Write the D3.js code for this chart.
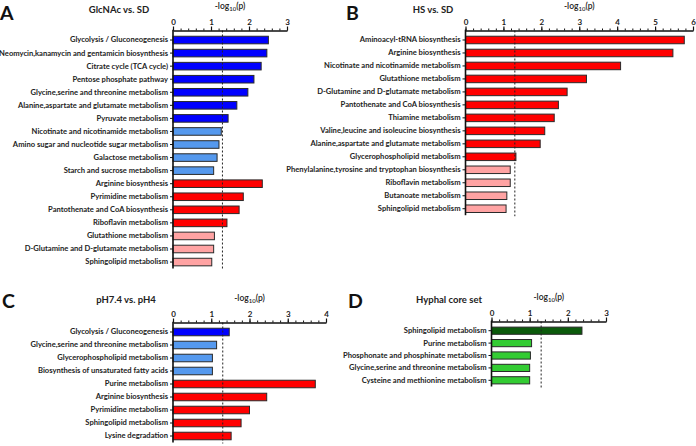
<!DOCTYPE html>
<html><head><meta charset="utf-8">
<script src="https://cdn.jsdelivr.net/npm/d3@7"></script>
<style>
html,body{margin:0;padding:0;background:#fff;}
text{font-family:Lato,"Open Sans",sans-serif;}
</style></head>
<body><svg id="chart" width="696" height="446"></svg>
<script>
// ---------- DATA ----------
const sigLine = 1.301; // -log10(0.05)

const aTitle = "GlcNAc vs. SD";
const aCategories = ["Glycolysis / Gluconeogenesis","Neomycin,kanamycin and gentamicin biosynthesis","Citrate cycle (TCA cycle)","Pentose phosphate pathway","Glycine,serine and threonine metabolism","Alanine,aspartate and glutamate metabolism","Pyruvate metabolism","Nicotinate and nicotinamide metabolism","Amino sugar and nucleotide sugar metabolism","Galactose metabolism","Starch and sucrose metabolism","Arginine biosynthesis","Pyrimidine metabolism","Pantothenate and CoA biosynthesis","Riboflavin metabolism","Glutathione metabolism","D-Glutamine and D-glutamate metabolism","Sphingolipid metabolism"];
const aValues = [2.51,2.47,2.32,2.13,1.97,1.68,1.45,1.27,1.21,1.16,1.07,2.35,1.85,1.74,1.42,1.09,1.07,1.02];
const aDirection = ["down","down","down","down","down","down","down","down","down","down","down","up","up","up","up","up","up","up"];
const aTicks = [0,1,2,3];

const bTitle = "HS vs. SD";
const bCategories = ["Aminoacyl-tRNA biosynthesis","Arginine biosynthesis","Nicotinate and nicotinamide metabolism","Glutathione metabolism","D-Glutamine and D-glutamate metabolism","Pantothenate and CoA biosynthesis","Thiamine metabolism","Valine,leucine and isoleucine biosynthesis","Alanine,aspartate and glutamate metabolism","Glycerophospholipid metabolism","Phenylalanine,tyrosine and tryptophan biosynthesis","Riboflavin metabolism","Butanoate metabolism","Sphingolipid metabolism"];
const bValues = [5.77,5.47,4.09,3.19,2.68,2.45,2.34,2.09,1.97,1.33,1.18,1.18,1.09,1.07];
const bDirection = ["up","up","up","up","up","up","up","up","up","up","up","up","up","up"];
const bTicks = [0,1,2,3,4,5,6];

const cTitle = "pH7.4 vs. pH4";
const cCategories = ["Glycolysis / Gluconeogenesis","Glycine,serine and threonine metabolism","Glycerophospholipid metabolism","Biosynthesis of unsaturated fatty acids","Purine metabolism","Arginine biosynthesis","Pyrimidine metabolism","Sphingolipid metabolism","Lysine degradation"];
const cValues = [1.47,1.14,1.03,1.03,3.72,2.45,2.00,1.78,1.52];
const cDirection = ["down","down","down","down","up","up","up","up","up"];
const cTicks = [0,1,2,3,4];

const dTitle = "Hyphal core set";
const dCategories = ["Sphingolipid metabolism","Purine metabolism","Phosphonate and phosphinate metabolism","Glycine,serine and threonine metabolism","Cysteine and methionine metabolism"];
const dValues = [2.37,1.05,1.02,1.00,1.00];
const dDirection = ["core","core","core","core","core"];
const dTicks = [0,1,2,3];

// ---------- STYLE / LAYOUT ----------
const palette = {
  down:{sig:"#0000FF", ns:"#5599EE"},
  up:{sig:"#FF0000", ns:"#FFA3A3"},
  core:{sig:"#0B5A0B", ns:"#33CC33"}
};

const panels = [
  {letter:"A", title:aTitle, cats:aCategories, vals:aValues, dir:aDirection, ticks:aTicks,
   x0:173, x1:287, axisY:30.5, step:13.06, letterX:0, letterY:20, titleX:119, titleY:13, logY:9},
  {letter:"B", title:bTitle, cats:bCategories, vals:bValues, dir:bDirection, ticks:bTicks,
   x0:465.5, x1:693, axisY:30.5, step:12.98, letterX:346, letterY:20, titleX:433, titleY:13, logY:9},
  {letter:"C", title:cTitle, cats:cCategories, vals:cValues, dir:cDirection, ticks:cTicks,
   x0:173, x1:326, axisY:322.5, step:13.0, letterX:2, letterY:308, titleX:126, titleY:303, logY:301},
  {letter:"D", title:dTitle, cats:dCategories, vals:dValues, dir:dDirection, ticks:dTicks,
   x0:491.5, x1:606, axisY:321.5, step:12.4, letterX:348, letterY:308, titleX:449, titleY:303, logY:300}
];

const svg = d3.select("#chart");

panels.forEach(p => {
  const g = svg.append("g");
  const maxV = p.ticks[p.ticks.length-1];
  const x = d3.scaleLinear().domain([0, maxV]).range([p.x0, p.x1]);
  const n = p.cats.length;
  const yTop = p.axisY + 3;
  const y = d3.scaleBand().domain(p.cats).range([yTop, yTop + n*p.step]).paddingInner(0.42).paddingOuter(0.21);
  const yBottom = yTop + n*p.step;

  // panel letter
  g.append("text").attr("x", p.letterX).attr("y", p.letterY)
    .attr("font-size", 19.5).attr("font-weight", 700).attr("fill", "#111").text(p.letter);
  // title
  g.append("text").attr("x", p.titleX).attr("y", p.titleY).attr("text-anchor","middle")
    .attr("font-size", 9.5).attr("font-weight", 700).attr("fill", "#222").text(p.title);
  // axis title -log10(p)
  const lt = g.append("text").attr("x", (p.x0+p.x1)/2).attr("y", p.logY).attr("text-anchor","middle")
    .attr("font-size", 8.5).attr("font-weight", 600).attr("fill", "#222");
  lt.append("tspan").text("-log");
  lt.append("tspan").attr("font-size", 6).attr("dy", 2).text("10");
  lt.append("tspan").attr("dy", -2).text("(p)");

  // bars
  g.selectAll("rect.bar").data(p.cats).enter().append("rect")
    .attr("class","bar")
    .attr("x", x(0))
    .attr("y", d => y(d))
    .attr("width", (d,i) => x(p.vals[i]) - x(0))
    .attr("height", y.bandwidth())
    .attr("fill", (d,i) => palette[p.dir[i]][p.vals[i] > sigLine ? "sig" : "ns"])
    .attr("stroke", "#2a2a2a").attr("stroke-width", 1);

  // significance line
  g.append("line").attr("x1", x(sigLine)).attr("x2", x(sigLine))
    .attr("y1", p.axisY).attr("y2", yBottom + 1)
    .attr("stroke", "#222").attr("stroke-width", 1).attr("stroke-dasharray", "2,2");

  // minor ticks
  const minor = g.append("g").attr("transform", `translate(0,${p.axisY})`)
    .call(d3.axisTop(x).tickValues(d3.range(0, maxV + 0.001, 0.2)).tickSize(2).tickFormat(""));
  minor.select(".domain").remove();
  minor.selectAll("line").attr("stroke", "#111");

  // major axis
  const ax = g.append("g").attr("transform", `translate(0,${p.axisY})`)
    .call(d3.axisTop(x).tickValues(p.ticks).tickSize(4).tickSizeOuter(0).tickPadding(2).tickFormat(d3.format("d")));
  ax.select(".domain").attr("stroke", "#111").attr("stroke-width", 1.6);
  ax.selectAll("line").attr("stroke", "#111").attr("stroke-width", 1.2);
  ax.selectAll("text").attr("font-size", 8).attr("font-weight", 700).attr("fill", "#222")
    .attr("font-family", "Lato, 'Open Sans', sans-serif");

  // left axis
  const ly = g.append("g").attr("transform", `translate(${p.x0},0)`)
    .call(d3.axisLeft(y).tickSize(3).tickPadding(2));
  ly.select(".domain").remove();
  ly.selectAll("line").attr("stroke", "#111").attr("stroke-width", 1);
  ly.selectAll("text").attr("font-size", 7.6).attr("font-weight", 700).attr("fill", "#222")
    .attr("font-family", "Lato, 'Open Sans', sans-serif");
  g.append("line").attr("x1", p.x0).attr("x2", p.x0).attr("y1", p.axisY - 0.8).attr("y2", yBottom)
    .attr("stroke", "#111").attr("stroke-width", 1.6);
});
</script>
</body></html>
